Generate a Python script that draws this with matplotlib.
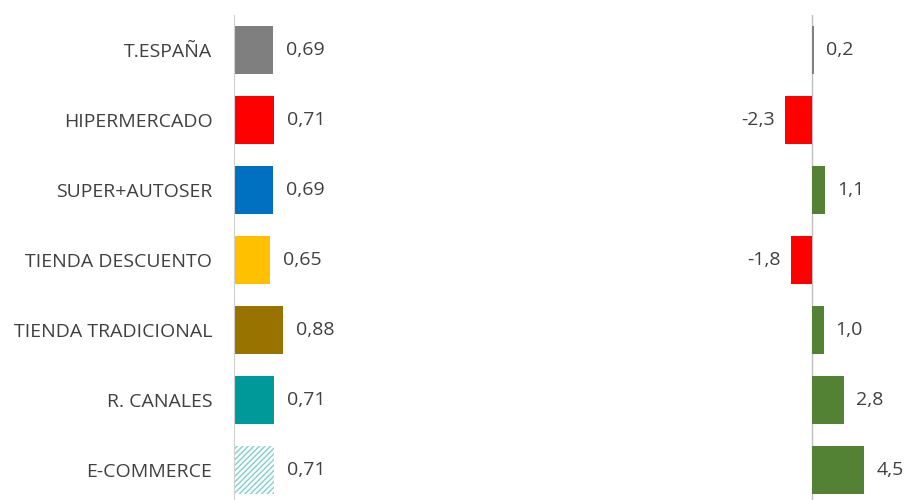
import matplotlib.pyplot as plt

categories = ['T.ESPAÑA', 'HIPERMERCADO', 'SUPER+AUTOSER', 'TIENDA DESCUENTO',
              'TIENDA TRADICIONAL', 'R. CANALES', 'E-COMMERCE']
share = [0.69, 0.71, 0.69, 0.65, 0.88, 0.71, 0.71]
change = [0.2, -2.3, 1.1, -1.8, 1.0, 2.8, 4.5]

left_colors = ['#7F7F7F', '#FF0000', '#0070C0', '#FFC000', '#997300', '#009999', 'white']
right_colors = ['#7F7F7F' if i == 0 else ('#FF0000' if v < 0 else '#548235')
                for i, v in enumerate(change)]

plt.rcParams['font.family'] = ['Open Sans', 'DejaVu Sans']
text_color = '#404040'
fs = 14

W, H = 905, 500
fig = plt.figure(figsize=(W / 100, H / 100), dpi=100)

# axes span rows from y=15 to y=505 (slightly past the bottom edge)
bottom = -5 / H
height = 490 / H

# left panel: zero at x=234, ~56 px per unit
ax1 = fig.add_axes([234 / W, bottom, 300 / W, height])
ax1.set_xlim(0, 300 / 56)
ax1.set_ylim(len(categories) - 0.5, -0.5)
y = range(len(categories))
bars = ax1.barh(y, share, height=0.69, color=left_colors, edgecolor='none')
bars[-1].set_hatch('//////')
bars[-1].set_edgecolor('#7FCFCF')
bars[-1].set_linewidth(0)
for yi, v in zip(y, share):
    ax1.text(v + 13 / 56, yi, f'{v:.2f}'.replace('.', ','), va='center', ha='left',
             fontsize=fs, color=text_color)
ax1.set_yticks(list(y))
ax1.set_yticklabels(categories, fontsize=fs, color=text_color)
ax1.tick_params(axis='y', length=0, pad=15.5)
ax1.set_xticks([])
for s in ['top', 'right', 'bottom']:
    ax1.spines[s].set_visible(False)
ax1.spines['left'].set_color('#D0D0D0')
ax1.patch.set_alpha(0)

# right panel: zero at x=812, ~11.6 px per unit
px = 11.6
ax2 = fig.add_axes([600 / W, bottom, 305 / W, height])
ax2.set_xlim(-212 / px, 93 / px)
ax2.set_ylim(len(categories) - 0.5, -0.5)
ax2.barh(y, change, height=0.69, color=right_colors, edgecolor='none')
for yi, v in zip(y, change):
    lbl = f'{v:.1f}'.replace('.', ',')
    if v < 0:
        ax2.text(v - 10 / px, yi, lbl, va='center', ha='right', fontsize=fs, color=text_color)
    else:
        ax2.text(v + 12 / px, yi, lbl, va='center', ha='left', fontsize=fs, color=text_color)
ax2.axvline(0, color='#BFBFBF', lw=1, zorder=0)
ax2.set_xticks([])
ax2.set_yticks([])
for s in ax2.spines.values():
    s.set_visible(False)
ax2.patch.set_alpha(0)

fig.savefig('out.png', dpi=100)
